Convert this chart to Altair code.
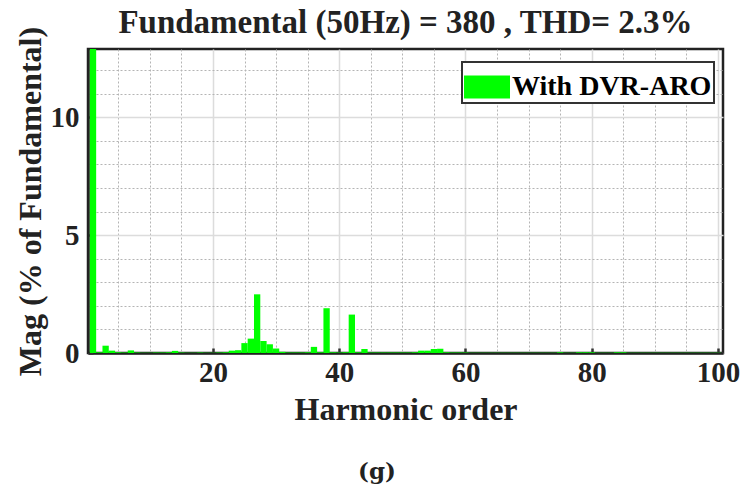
import altair as alt
import pandas as pd

# ---- data ----
harmonic = list(range(1, 101))
magnitude = [
    100.0, 0.03, 0.31, 0.10, 0.03, 0.02, 0.11, 0.02, 0.01, 0.01,   # 1-10
    0.02, 0.02, 0.03, 0.09, 0.02, 0.01, 0.01, 0.02, 0.01, 0.01,     # 11-20
    0.02, 0.03, 0.10, 0.12, 0.42, 0.61, 2.49, 0.51, 0.37, 0.19,     # 21-30
    0.05, 0.02, 0.02, 0.02, 0.03, 0.26, 0.03, 1.90, 0.03, 0.02,     # 31-40
    0.03, 1.63, 0.03, 0.17, 0.02, 0.02, 0.02, 0.02, 0.02, 0.02,     # 41-50
    0.02, 0.03, 0.10, 0.10, 0.17, 0.18, 0.03, 0.02, 0.02, 0.02,     # 51-60
    0.01, 0.01, 0.01, 0.01, 0.01, 0.01, 0.01, 0.01, 0.01, 0.01,     # 61-70
    0.01, 0.01, 0.01, 0.01, 0.03, 0.01, 0.01, 0.03, 0.03, 0.03,     # 71-80
    0.01, 0.01, 0.01, 0.03, 0.03, 0.01, 0.01, 0.01, 0.01, 0.01,     # 81-90
    0.01, 0.01, 0.01, 0.01, 0.01, 0.01, 0.01, 0.01, 0.01, 0.01,     # 91-100
]
series_name = "With DVR-ARO"
title_text = "Fundamental (50Hz) = 380 , THD= 2.3%"
x_title = "Harmonic order"
y_title = "Mag (% of Fundamental)"
panel_label = "(g)"
x_tick_values = list(range(5, 101, 5))
y_tick_values = list(range(0, 13))

df = pd.DataFrame({"h": harmonic, "mag": magnitude, "series": series_name})

FONT = "Liberation Serif"
x_scale = alt.Scale(domain=[1, 100], nice=False, zero=False)
y_scale = alt.Scale(domain=[0, 12.9], nice=False)

x_axis = alt.Axis(
    values=x_tick_values,
    labelExpr="datum.value % 20 === 0 ? datum.label : ''",
    grid=True,
    gridDash=alt.condition("datum.value % 20 === 0", alt.value([]), alt.value([2, 2])),
    gridColor=alt.condition("datum.value % 20 === 0", alt.value("#dcdcdc"), alt.value("#b4b4b4")),
    gridWidth=alt.condition("datum.value % 20 === 0", alt.value(1.5), alt.value(1)),
    tickOpacity=alt.condition("datum.value % 20 === 0", alt.value(1), alt.value(0)),
    tickSize=alt.ExprRef("-5"),
    tickWidth=2.5,
    tickColor="#333333",
    labelFont=FONT, labelFontSize=29, labelFontWeight="bold", labelColor="#222222",
    labelPadding=10,
    domainColor="#222222", domainWidth=2.5,
    title=x_title, titleFont=FONT, titleFontSize=32, titleFontWeight="bold",
    titleColor="#222222", titlePadding=7,
)
y_axis = alt.Axis(
    values=y_tick_values,
    labelExpr="datum.value % 5 === 0 ? datum.label : ''",
    grid=True,
    gridDash=alt.condition("datum.value % 5 === 0", alt.value([]), alt.value([2, 2])),
    gridColor=alt.condition("datum.value % 5 === 0", alt.value("#dcdcdc"), alt.value("#b4b4b4")),
    gridWidth=alt.condition("datum.value % 5 === 0", alt.value(1.5), alt.value(1)),
    tickOpacity=alt.condition("datum.value % 5 === 0", alt.value(1), alt.value(0)),
    tickSize=alt.ExprRef("-5"),
    tickWidth=2.5,
    tickColor="#333333",
    labelFont=FONT, labelFontSize=29, labelFontWeight="bold", labelColor="#222222",
    labelPadding=14,
    domainColor="#222222", domainWidth=2.5,
    title=y_title, titleFont=FONT, titleFontSize=32, titleFontWeight="bold",
    titleColor="#222222", titlePadding=3,
)

bars = alt.Chart(df).transform_calculate(
    x0="datum.h - 0.5", x1="datum.h + 0.5"
).mark_bar(clip=True, orient="vertical").encode(
    x=alt.X("x0:Q", scale=x_scale, axis=x_axis),
    x2="x1:Q",
    y=alt.Y("mag:Q", scale=y_scale, axis=y_axis),
    y2=alt.datum(0),
    color=alt.Color(
        "series:N",
        scale=alt.Scale(range=["#00ff00"]),
        title=None,
        legend=alt.Legend(
            orient="none", legendX=374, legendY=13,
            symbolType="M-1,-0.5L1,-0.5L1,0.5L-1,0.5Z", symbolSize=2116,
            symbolStrokeWidth=0, symbolOpacity=1,
            labelFont=FONT, labelFontSize=28, labelFontWeight="bold", labelColor="#000000",
            labelOffset=2, labelLimit=400, padding=2,
            fillColor="white", strokeColor="#333333",
        ),
    ),
)

label = alt.Chart(pd.DataFrame({"t": [panel_label]})).mark_text(
    font="DejaVu Serif", fontSize=23, fontWeight="bold", color="#222222",
    baseline="middle", align="center",
).encode(x=alt.value(289), y=alt.value(423), text="t:N")

chart = alt.layer(bars, label).properties(
    width=635, height=304,
    autosize=alt.AutoSizeParams(type="none"),
    padding={"left": 88, "top": 49, "right": 27, "bottom": 135},
    title=alt.TitleParams(title_text, font=FONT, fontSize=33, fontWeight="bold",
                          color="#222222", offset=-14, anchor="middle", frame="group"),
).configure_view(stroke="#222222", strokeWidth=2.5).configure_legend(strokeWidth=2)

chart.save("out.html", embed_options={"renderer": "svg", "actions": False})
